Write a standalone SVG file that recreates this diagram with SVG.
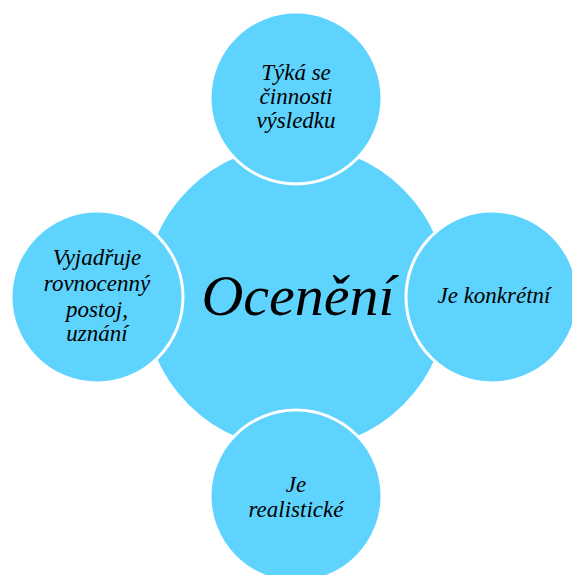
<svg xmlns="http://www.w3.org/2000/svg" width="572" height="575" viewBox="0 0 572 575">
<style>
.c{fill:#5DD3FE}
.s{fill:#5DD3FE;stroke:#FFFFFF;stroke-width:3}
.t{font-family:"Liberation Serif","Times New Roman",serif;font-style:italic;font-size:23px;fill:#000;text-anchor:middle}
.big{font-size:58px}
</style>
<rect width="572" height="575" fill="#FFFFFF"/>
<g id="center">
<circle class="c" cx="296" cy="297" r="152"/>
<text class="t big" x="298" y="315">Ocenění</text>
</g>
<g id="connectors"></g>
<g id="top">
<circle class="s" cx="296" cy="98" r="86"/>
<text class="t" x="296" y="80">Týká se</text>
<text class="t" x="296" y="104">činnosti</text>
<text class="t" x="296" y="128">výsledku</text>
</g>
<g id="right">
<circle class="s" cx="492" cy="297" r="86"/>
<text class="t" x="494" y="303">Je konkrétní</text>
</g>
<g id="bottom">
<circle class="s" cx="296" cy="496" r="86"/>
<text class="t" x="296" y="492">Je</text>
<text class="t" x="296" y="517">realistické</text>
</g>
<g id="left">
<circle class="s" cx="97" cy="297" r="86"/>
<text class="t" x="97" y="265">Vyjadřuje</text>
<text class="t" x="97" y="291">rovnocenný</text>
<text class="t" x="97" y="317">postoj,</text>
<text class="t" x="97" y="341">uznání</text>
</g>
</svg>
